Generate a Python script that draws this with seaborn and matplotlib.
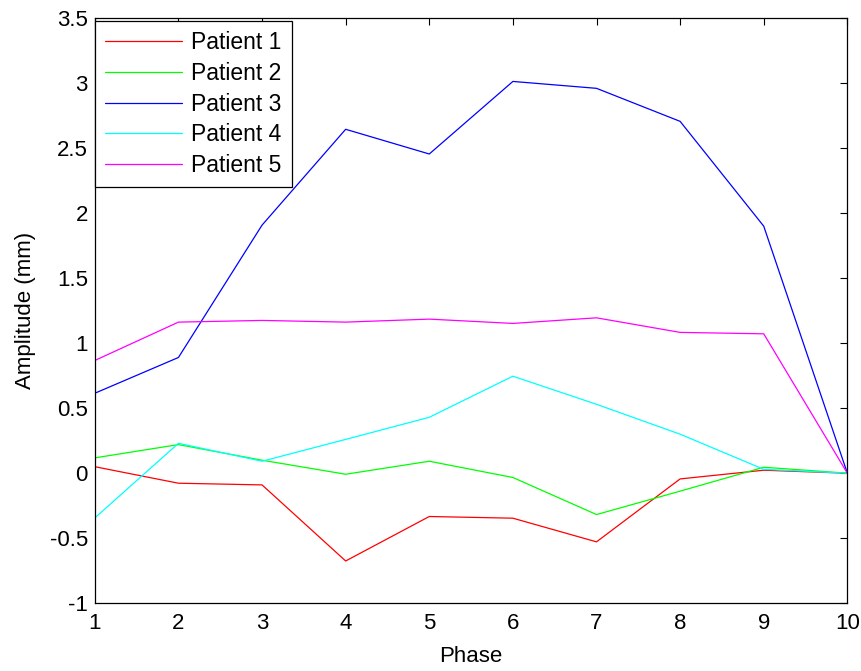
import numpy as np
import pandas as pd
import matplotlib
matplotlib.use("Agg")
import matplotlib.pyplot as plt
import seaborn as sns

phase = [1, 2, 3, 4, 5, 6, 7, 8, 9, 10]
patient_1 = [0.05, -0.077, -0.09, -0.675, -0.333, -0.346, -0.528, -0.044, 0.023, 0.0]
patient_2 = [0.118, 0.22, 0.10, -0.008, 0.092, -0.033, -0.318, -0.138, 0.046, 0.0]
patient_3 = [0.615, 0.89, 1.908, 2.645, 2.455, 3.013, 2.96, 2.706, 1.90, 0.0]
patient_4 = [-0.344, 0.23, 0.092, 0.26, 0.43, 0.746, 0.53, 0.30, 0.03, 0.0]
patient_5 = [0.867, 1.162, 1.175, 1.162, 1.185, 1.152, 1.195, 1.083, 1.072, 0.0]
labels = ["Patient 1", "Patient 2", "Patient 3", "Patient 4", "Patient 5"]
colors = ["#ff0000", "#00ff00", "#0000ff", "#00ffff", "#ff00ff"]
y_ticks = [-1, -0.5, 0, 0.5, 1, 1.5, 2, 2.5, 3, 3.5]
y_tick_labels = ["-1", "-0.5", "0", "0.5", "1", "1.5", "2", "2.5", "3", "3.5"]

series = [patient_1, patient_2, patient_3, patient_4, patient_5]
df = pd.concat(
    [pd.DataFrame({"Phase": phase, "Amplitude": vals, "Patient": name})
     for name, vals in zip(labels, series)],
    ignore_index=True,
)

sns.set_style("white")
plt.rcParams["font.family"] = ["Liberation Sans", "DejaVu Sans"]
plt.rcParams["text.color"] = "black"
plt.rcParams["axes.labelcolor"] = "black"

fig = plt.figure(figsize=(8.62, 6.71), dpi=100)
ax = fig.add_axes([0.110, 0.101, 0.873, 0.872])

sns.lineplot(data=df, x="Phase", y="Amplitude", hue="Patient",
             palette=dict(zip(labels, colors)), linewidth=0.9, ax=ax,
             legend=False)

ax.set_xlim(1, 10)
ax.set_ylim(-1, 3.5)
ax.set_xticks(phase)
ax.set_xticklabels([str(p) for p in phase])
ax.set_yticks(y_ticks)
ax.set_yticklabels(y_tick_labels)
ax.tick_params(direction="in", length=5, width=0.8, top=True, right=True,
               labelsize=16, colors="black")
ax.tick_params(axis="x", pad=7)
ax.tick_params(axis="y", pad=5)
for s in ax.spines.values():
    s.set_color("black")
    s.set_linewidth(0.9)
ax.set_xlabel("Phase", fontsize=16, labelpad=9)
ax.set_ylabel("Amplitude (mm)", fontsize=16, labelpad=10)

handles = [plt.Line2D([], [], color=c, linewidth=0.9) for c in colors]
leg = ax.legend(handles, labels, loc="upper left", fontsize=16.5,
                frameon=True, fancybox=False, framealpha=1,
                edgecolor="black", handlelength=3.35, handletextpad=0.4,
                borderpad=0.45, labelspacing=0.33,
                bbox_to_anchor=(0.0, 1 - 3 / 585), borderaxespad=0.0)
leg.get_frame().set_linewidth(0.9)

fig.savefig("out.png", dpi=100, facecolor="white")
